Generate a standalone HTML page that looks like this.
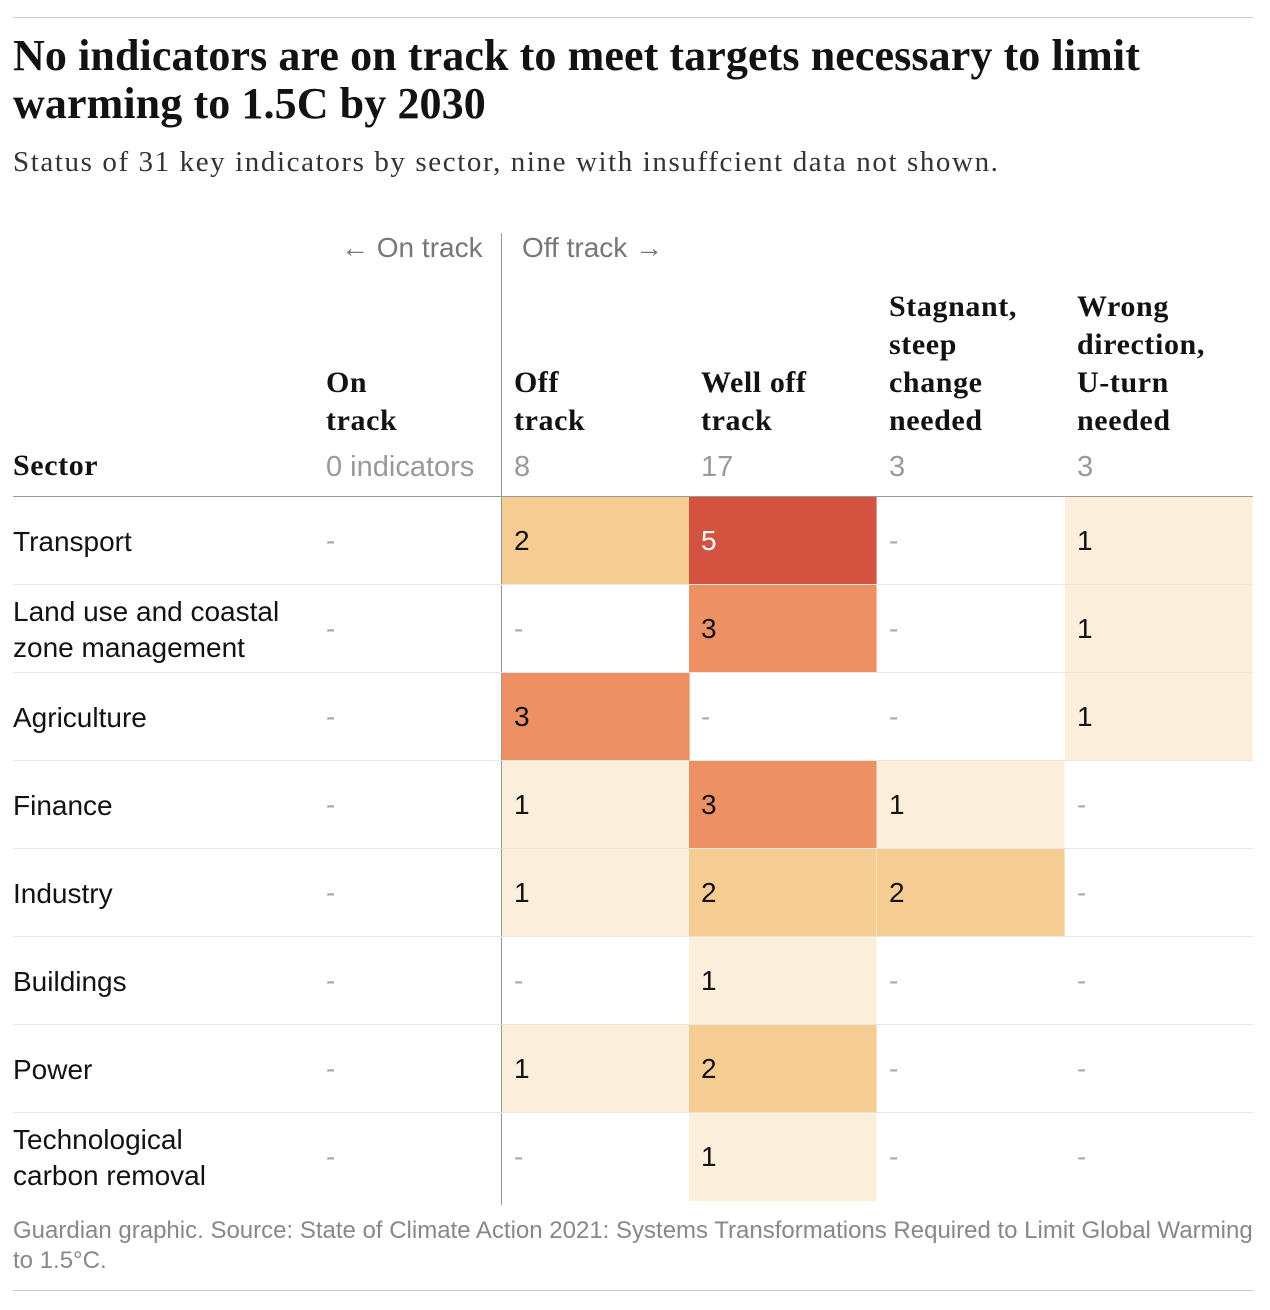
<!DOCTYPE html>
<html><head><meta charset="utf-8"><style>
body{margin:0;background:#fff;width:1270px;height:1310px;position:relative;overflow:hidden;font-family:"Liberation Sans",sans-serif}
.a{position:absolute;white-space:nowrap}
.serif{font-family:"Liberation Serif",serif}
.hd{font-family:"Liberation Serif",serif;font-weight:bold;font-size:30px;line-height:38px;color:#121212;letter-spacing:0.6px}
.cnt{font-size:29px;color:#999}
.lab{font-size:28px;line-height:36px;color:#121212}
</style></head><body>
<div class="a" style="left:13px;top:17px;width:1240px;height:1px;background:#ccc"></div>
<div class="a serif" style="left:13px;top:32px;font-size:44px;line-height:48px;font-weight:bold;color:#121212;letter-spacing:0.1px">No indicators are on track to meet targets necessary to limit<br>warming to 1.5C by 2030</div>
<div class="a serif" style="left:13px;top:146px;font-size:29px;color:#333;letter-spacing:1.6px">Status of 31 key indicators by sector, nine with insuffcient data not shown.</div>
<div class="a" style="left:341px;top:232px;font-size:28px;color:#777">← On track</div>
<div class="a" style="left:522px;top:232px;font-size:28px;color:#777">Off track →</div>
<div class="a" style="left:501px;top:233px;width:1px;height:972px;background:#999"></div>
<div class="a hd" style="left:13px;top:447px">Sector</div>
<div id="chart"></div>
<div class="a" style="left:13px;top:496px;width:1240px;height:1px;background:#999"></div>
<div class="a" style="left:13px;top:1216px;font-size:24px;line-height:30px;color:#888">Guardian graphic. Source: State of Climate Action 2021: Systems Transformations Required to Limit Global Warming<br>to 1.5°C.</div>
<div class="a" style="left:13px;top:1290px;width:1240px;height:1px;background:#ccc"></div>
<script>
const columns=["On<br>track","Off<br>track","Well off<br>track","Stagnant,<br>steep<br>change<br>needed","Wrong<br>direction,<br>U-turn<br>needed"];
const columnCounts=["0 indicators","8","17","3","3"];
const sectors=["Transport","Land use and coastal<br>zone management","Agriculture","Finance","Industry","Buildings","Power","Technological<br>carbon removal"];
const values=[
[0,2,5,0,1],
[0,0,3,0,1],
[0,3,0,0,1],
[0,1,3,1,0],
[0,1,2,2,0],
[0,0,1,0,0],
[0,1,2,0,0],
[0,0,1,0,0]];
const colX=[326,502,689,877,1065], colW=188, rowY0=497, rowH=88;
function pad(c){return c===0?0:12;}
function color(v){return v>=5?"#d35340":v>=3?"#ed9164":v>=2?"#f5cd93":"#fbeedb";}
const root=document.getElementById('chart');
function add(html){const t=document.createElement('div');t.innerHTML=html;const e=t.firstChild;root.appendChild(e);return e;}
columns.forEach((c,i)=>{
 const n=c.split('<br>').length;
 const h=add(`<div class="a hd" style="left:${colX[i]+pad(i)}px;top:${440-n*38}px">${c}</div>`);
 
 
 const k=add(`<div class="a cnt" style="left:${colX[i]+pad(i)}px;top:451px">${columnCounts[i]}</div>`);
 
 
});
sectors.forEach((s,r)=>{
 const y=rowY0+r*rowH;
 if(r>0){const l=add(`<div class="a" style="left:13px;top:${y-1}px;width:1240px;height:1px;background:#e6e6e6"></div>`);
 
 }
 const n=s.split('<br>').length;
 const lb=add(`<div class="a lab" style="left:13px;top:${y+45-n*18}px">${s}</div>`);
 
 
 values[r].forEach((v,c)=>{
  if(v>0){const cell=add(`<div class="a" style="left:${colX[c]}px;top:${y}px;width:${colW}px;height:${rowH}px;background:${color(v)};box-shadow:inset -1px 0 0 rgba(255,255,255,0.4)"></div>`);
  
  }
  const t=add(`<div class="a" style="left:${colX[c]+pad(c)}px;top:${y+28}px;font-size:28px;color:${v>=5?'#fff':v>0?'#121212':'#aaa'}">${v>0?v:'-'}</div>`);
  
  
 });
});
</script>
</body></html>
